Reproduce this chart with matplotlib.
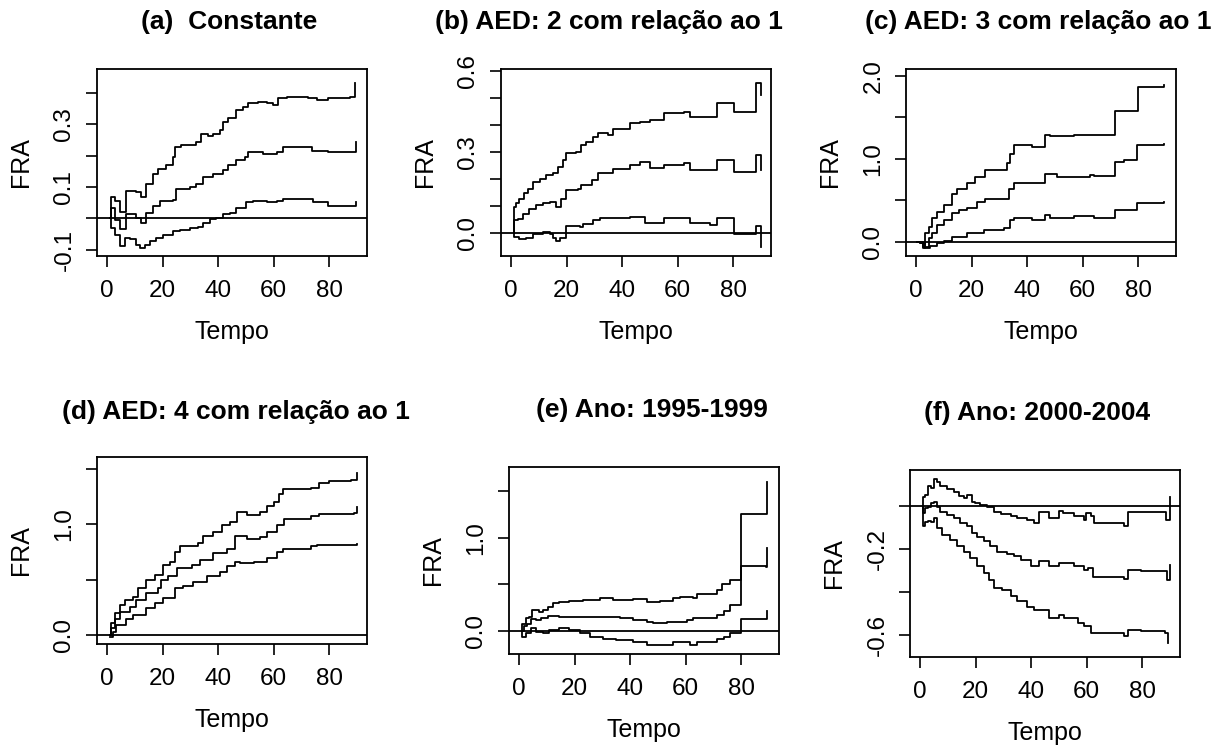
import matplotlib
matplotlib.use("Agg")
import matplotlib.pyplot as plt
from matplotlib.transforms import Bbox, TransformedBbox, offset_copy

plt.rcParams['font.family'] = ['Liberation Sans', 'DejaVu Sans']

# step curves: (tempo, FRA) knots
A_UP = [(1.0, 0.0), (1.3, 0.067), (2.8, 0.056), (4.6, 0.020), (7.0, 0.088), (10.6, 0.083), (12.4, 0.067),
        (14.2, 0.110), (16.6, 0.142), (18.4, 0.158), (21.4, 0.169), (23.8, 0.196), (24.4, 0.228), (26.8, 0.233),
        (32.2, 0.244), (34.0, 0.271), (36.5, 0.262), (38.2, 0.271), (40.6, 0.282), (41.8, 0.309), (43.6, 0.319),
        (46.6, 0.346), (49.0, 0.357), (50.8, 0.368), (54.4, 0.373), (57.5, 0.368), (59.9, 0.362), (61.7, 0.384),
        (64.7, 0.389), (72.5, 0.384), (75.5, 0.378), (79.7, 0.384), (87.5, 0.389), (89.3, 0.432)]
A_MID = [(1.0, 0.0), (1.6, 0.034), (2.8, -0.005), (4.6, -0.035), (7.0, 0.013), (10.6, 0.002), (12.4, -0.014),
         (14.2, 0.018), (16.6, 0.040), (19.0, 0.056), (23.8, 0.060), (25.0, 0.094), (29.8, 0.099), (32.2, 0.110),
         (34.6, 0.131), (38.2, 0.142), (41.8, 0.153), (43.6, 0.169), (46.6, 0.185), (49.6, 0.196), (50.8, 0.212),
         (56.2, 0.206), (61.1, 0.212), (63.5, 0.228), (71.9, 0.228), (73.7, 0.215), (79.7, 0.212), (88.7, 0.212),
         (89.7, 0.244)]
A_LOW = [(1.0, 0.0), (1.6, -0.030), (2.8, -0.052), (4.6, -0.089), (6.4, -0.062), (8.2, -0.067), (10.6, -0.084),
         (11.8, -0.095), (13.6, -0.084), (15.4, -0.073), (17.8, -0.062), (20.2, -0.052), (23.8, -0.041),
         (26.2, -0.036), (29.8, -0.030), (32.8, -0.028), (34.6, -0.014), (37.0, -0.003), (39.4, 0.002),
         (41.8, 0.013), (44.2, 0.018), (46.6, 0.034), (50.2, 0.051), (52.6, 0.056), (57.5, 0.051), (61.1, 0.056),
         (63.5, 0.061), (71.9, 0.061), (74.3, 0.051), (79.7, 0.040), (88.7, 0.040), (89.7, 0.051)]

B_UP = [(1.0, 0.0), (1.1, 0.096), (1.8, 0.109), (3.0, 0.127), (4.8, 0.146), (6.0, 0.164), (7.8, 0.189),
        (10.3, 0.201), (12.7, 0.214), (15.1, 0.220), (16.9, 0.244), (18.7, 0.269), (19.9, 0.294), (23.5, 0.298),
        (25.3, 0.325), (27.1, 0.337), (29.6, 0.356), (31.4, 0.370), (35.0, 0.362), (36.8, 0.386), (42.8, 0.405),
        (46.4, 0.411), (50.1, 0.417), (54.9, 0.442), (62.1, 0.448), (64.5, 0.430), (74.2, 0.479), (80.2, 0.448),
        (88.1, 0.553), (89.9, 0.510)]
B_MID = [(1.0, 0.0), (1.1, 0.047), (2.4, 0.053), (4.2, 0.072), (6.6, 0.090), (9.0, 0.102), (11.5, 0.109),
         (13.9, 0.115), (16.3, 0.096), (18.1, 0.127), (19.9, 0.160), (24.1, 0.164), (25.3, 0.177), (29.0, 0.195),
         (31.4, 0.220), (36.8, 0.238), (42.8, 0.251), (46.4, 0.263), (50.1, 0.240), (54.9, 0.251), (62.1, 0.257),
         (64.5, 0.232), (74.2, 0.269), (80.2, 0.226), (88.1, 0.288), (89.9, 0.232)]
B_LOW = [(1.0, 0.0), (1.1, -0.015), (3.0, -0.021), (5.4, -0.017), (7.8, -0.002), (11.5, 0.004), (13.9, -0.002),
         (15.1, -0.017), (16.3, -0.030), (17.5, -0.017), (19.9, 0.026), (24.7, 0.022), (25.9, 0.035),
         (29.6, 0.047), (32.0, 0.057), (36.8, 0.055), (42.8, 0.059), (48.3, 0.037), (54.9, 0.057), (64.5, 0.037),
         (71.8, 0.028), (74.2, 0.057), (80.2, -0.005), (88.1, 0.025), (89.9, -0.052)]

C_UP = [(0.5, 0.0), (1.4, -0.02), (2.6, -0.08), (3.2, 0.10), (4.5, 0.18), (5.7, 0.28), (7.5, 0.36), (9.9, 0.44),
        (12.9, 0.58), (14.7, 0.63), (18.3, 0.71), (21.3, 0.78), (24.9, 0.86), (32.7, 0.95), (33.9, 1.06),
        (35.1, 1.16), (41.8, 1.14), (46.6, 1.29), (48.4, 1.27), (56.8, 1.29), (71.8, 1.57), (80.0, 1.86),
        (89.3, 1.89)]
C_MID = [(0.5, 0.0), (2.6, -0.06), (4.5, 0.04), (5.7, 0.10), (7.5, 0.20), (9.9, 0.26), (12.9, 0.34), (15.3, 0.38),
         (18.3, 0.40), (21.9, 0.48), (24.9, 0.51), (33.3, 0.64), (35.1, 0.71), (46.6, 0.82), (50.8, 0.78),
         (62.8, 0.80), (64.0, 0.79), (71.8, 0.96), (74.8, 0.98), (79.7, 1.16), (89.3, 1.18)]
C_LOW = [(0.5, 0.0), (1.4, -0.02), (3.2, -0.08), (5.1, -0.05), (7.5, -0.02), (9.9, 0.01), (12.9, 0.05),
         (18.3, 0.10), (24.3, 0.14), (31.5, 0.16), (33.9, 0.26), (35.1, 0.28), (41.8, 0.26), (46.6, 0.32),
         (48.4, 0.29), (56.8, 0.31), (64.0, 0.29), (71.8, 0.38), (79.7, 0.46), (89.3, 0.48)]

D_UP = [(1.0, 0.0), (1.6, 0.105), (2.8, 0.196), (4.6, 0.27), (6.4, 0.316), (9.4, 0.346), (11.2, 0.42),
        (14.2, 0.50), (17.2, 0.54), (20.2, 0.63), (22.7, 0.66), (24.5, 0.75), (26.3, 0.80), (32.9, 0.83),
        (34.7, 0.89), (38.3, 0.93), (41.3, 0.99), (44.3, 1.02), (46.7, 1.11), (50.4, 1.08), (55.2, 1.11),
        (57.6, 1.16), (60.0, 1.20), (61.8, 1.27), (63.4, 1.32), (73.3, 1.33), (76.3, 1.37), (79.9, 1.39),
        (87.7, 1.40), (89.9, 1.46)]
D_MID = [(1.0, 0.0), (1.6, 0.06), (2.8, 0.14), (4.6, 0.21), (8.2, 0.25), (10.6, 0.32), (14.2, 0.38),
         (18.4, 0.42), (19.6, 0.50), (22.0, 0.53), (25.1, 0.60), (30.5, 0.63), (33.5, 0.68), (38.3, 0.74),
         (43.1, 0.78), (46.1, 0.89), (50.4, 0.87), (55.2, 0.88), (57.6, 0.93), (61.2, 0.99), (63.6, 1.05),
         (73.3, 1.07), (76.3, 1.09), (88.9, 1.10), (89.9, 1.15)]
D_LOW = [(1.0, -0.015), (2.2, 0.03), (3.4, 0.09), (7.0, 0.14), (9.4, 0.18), (14.2, 0.24), (17.2, 0.29),
         (20.2, 0.33), (24.5, 0.42), (27.5, 0.44), (31.1, 0.48), (35.9, 0.53), (40.7, 0.57), (43.1, 0.62),
         (46.1, 0.66), (48.0, 0.65), (52.8, 0.66), (57.6, 0.69), (61.2, 0.75), (63.4, 0.78), (73.3, 0.80),
         (75.7, 0.81), (88.9, 0.81), (89.9, 0.82)]

E_UP = [(1.0, 0.0), (1.2, 0.08), (2.4, 0.136), (3.6, 0.15), (4.8, 0.225), (7.3, 0.21), (8.5, 0.225), (10.3, 0.26),
        (12.1, 0.30), (14.5, 0.31), (18.1, 0.325), (23.0, 0.33), (29.0, 0.35), (33.8, 0.33), (41.1, 0.34),
        (45.9, 0.31), (50.8, 0.32), (55.6, 0.35), (58.0, 0.37), (62.8, 0.35), (64.0, 0.40), (71.3, 0.44),
        (73.1, 0.50), (76.1, 0.55), (80.0, 1.26), (89.4, 1.60)]
E_MID = [(1.0, 0.0), (1.8, 0.05), (3.0, 0.08), (4.2, 0.125), (6.0, 0.118), (7.9, 0.136), (10.3, 0.16),
         (14.5, 0.154), (19.3, 0.146), (29.0, 0.154), (36.3, 0.136), (41.1, 0.118), (45.9, 0.10), (48.3, 0.09),
         (53.2, 0.10), (60.4, 0.118), (62.8, 0.136), (71.3, 0.17), (73.7, 0.22), (76.1, 0.28), (80.0, 0.70),
         (88.8, 0.69), (89.4, 0.89)]
E_LOW = [(1.0, 0.0), (1.2, -0.06), (2.4, -0.025), (4.2, 0.03), (6.0, -0.005), (8.5, -0.025), (10.9, 0.01),
         (14.5, 0.03), (18.1, 0.01), (21.8, -0.025), (25.4, -0.06), (30.2, -0.08), (35.0, -0.096), (41.1, -0.114),
         (45.9, -0.15), (52.0, -0.15), (55.6, -0.114), (61.6, -0.15), (64.0, -0.114), (71.3, -0.09),
         (73.7, -0.06), (76.1, -0.025), (80.0, 0.125), (88.8, 0.13), (89.4, 0.22)]

F_UP = [(1.0, 0.0), (1.2, 0.046), (1.8, 0.054), (2.7, 0.093), (3.9, 0.085), (5.1, 0.127), (6.0, 0.116),
        (7.2, 0.093), (9.7, 0.080), (12.1, 0.065), (13.9, 0.049), (15.7, 0.038), (16.9, 0.054), (18.7, 0.022),
        (19.9, 0.015), (21.7, 0.007), (24.1, -0.004), (26.5, -0.024), (29.0, -0.035), (32.6, -0.047),
        (35.0, -0.055), (38.6, -0.066), (41.0, -0.079), (42.8, -0.024), (46.4, -0.055), (50.1, -0.020),
        (51.3, -0.032), (55.5, -0.047), (59.1, -0.066), (59.7, -0.032), (61.5, -0.047), (62.7, -0.079),
        (65.1, -0.076), (73.6, -0.091), (74.8, -0.024), (79.6, -0.028), (88.1, -0.028), (88.7, -0.063),
        (89.9, 0.046)]
F_MID = [(1.0, 0.0), (1.2, -0.032), (1.8, -0.009), (2.7, -0.001), (3.9, 0.015), (5.1, 0.022), (6.0, -0.001),
         (7.2, -0.024), (9.7, -0.040), (12.1, -0.055), (14.5, -0.076), (16.9, -0.094), (18.7, -0.125),
         (20.5, -0.141), (22.9, -0.164), (25.3, -0.187), (27.7, -0.211), (31.4, -0.222), (33.8, -0.234),
         (36.2, -0.250), (39.8, -0.281), (42.8, -0.257), (46.4, -0.281), (50.1, -0.265), (55.5, -0.281),
         (59.1, -0.297), (60.3, -0.289), (62.1, -0.329), (73.6, -0.339), (74.8, -0.297), (79.6, -0.304),
         (88.1, -0.304), (89.0, -0.344), (89.9, -0.273)]
F_LOW = [(1.0, 0.0), (1.2, -0.094), (1.8, -0.072), (2.7, -0.069), (3.9, -0.072), (5.1, -0.055), (6.0, -0.102),
         (7.8, -0.133), (10.9, -0.156), (13.3, -0.187), (15.7, -0.211), (18.1, -0.242), (20.5, -0.281),
         (22.9, -0.312), (24.7, -0.344), (26.5, -0.383), (29.6, -0.390), (32.6, -0.421), (35.0, -0.444),
         (38.6, -0.468), (41.0, -0.486), (46.4, -0.522), (50.1, -0.507), (51.9, -0.522), (56.7, -0.545),
         (59.1, -0.561), (61.5, -0.592), (73.6, -0.607), (74.8, -0.576), (79.6, -0.584), (88.1, -0.592),
         (89.3, -0.639)]

titles = ["(a)  Constante", "(b) AED: 2 com relação ao 1", "(c) AED: 3 com relação ao 1",
          "(d) AED: 4 com relação ao 1", "(e) Ano: 1995-1999", "(f) Ano: 2000-2004"]
curves = [(A_UP, A_MID, A_LOW), (B_UP, B_MID, B_LOW), (C_UP, C_MID, C_LOW),
          (D_UP, D_MID, D_LOW), (E_UP, E_MID, E_LOW), (F_UP, F_MID, F_LOW)]
yticks = [[-0.1, 0.0, 0.1, 0.2, 0.3, 0.4], [0.0, 0.1, 0.2, 0.3, 0.4, 0.5, 0.6], [0.0, 0.5, 1.0, 1.5, 2.0],
          [0.0, 0.5, 1.0, 1.5], [0.0, 0.5, 1.0, 1.5], [-0.6, -0.4, -0.2, 0.0]]
ylabels = [["-0.1", "", "0.1", "", "0.3", ""], ["0.0", "", "", "0.3", "", "", "0.6"], ["0.0", "", "1.0", "", "2.0"],
           ["0.0", "", "1.0", ""], ["0.0", "", "1.0", ""], ["-0.6", "", "-0.2", ""]]
xticks = [0, 20, 40, 60, 80]

# layout in pixels (box left, top, right, bottom) and title centres
W, H = 1225, 749
boxes = [(97, 69, 367, 256), (501, 69, 771, 256), (906, 69, 1176, 256),
         (97, 457, 367, 644), (509, 467, 779, 654), (910, 470, 1180, 657)]
ylims = [(-0.12, 0.477), (-0.085, 0.606), (-0.173, 2.08), (-0.081, 1.605), (-0.246, 1.761), (-0.704, 0.170)]
title_pos = [(229, 22), (609, 22), (1038, 22), (236, 412), (652, 410), (1037, 413)]

TICK_LEN, YPAD, XPAD = 8, 7.5, 9

fig = plt.figure(figsize=(W / 100, H / 100), dpi=100)

for i in range(6):
    x0, y0, x1, y1 = boxes[i]
    ax = fig.add_axes([x0 / W, 1 - y1 / H, (x1 - x0) / W, (y1 - y0) / H])
    for c in curves[i]:
        t, v = zip(*c)
        ax.step(t, v, where="post", color="black", lw=1.3)
    ax.axhline(0, color="black", lw=1.3)
    ax.set_xlim(-3.6, 93.6)
    ax.set_ylim(*ylims[i])
    ax.set_xticks(xticks)
    ax.set_xticklabels([str(x) for x in xticks])
    labs = list(ylabels[i])
    cut = None
    if i == 1:
        # top label of (b) is cut off by the figure edge in the original
        cut = (yticks[i][-1], labs[-1])
        labs[-1] = ""
    ax.set_yticks(yticks[i])
    ax.set_yticklabels(labs, rotation=90, va="center")
    ax.tick_params(axis="both", direction="out", length=TICK_LEN, width=1.2, labelsize=17.5)
    ax.tick_params(axis="x", pad=XPAD)
    ax.tick_params(axis="y", pad=YPAD)
    for s in ax.spines.values():
        s.set_linewidth(1.3)
    if cut is not None:
        tr = offset_copy(ax.get_yaxis_transform(), fig=fig, x=-(TICK_LEN + YPAD), units="points")
        txt = ax.text(0, cut[0], cut[1], transform=tr, rotation=90, ha="right", va="center",
                      fontsize=17.5, clip_on=True)
        txt.set_clip_box(TransformedBbox(Bbox.from_extents(0, 0, 1, 1 - 57 / H), fig.transFigure))
    fig.text((x0 + x1) / 2 / W, 1 - (y1 + 76) / H, "Tempo", ha="center", va="center", fontsize=18)
    fig.text((x0 - 76) / W, 1 - (y0 + y1) / 2 / H, "FRA", ha="center", va="center", rotation=90, fontsize=18)
    tx, ty = title_pos[i]
    fig.text(tx / W, 1 - ty / H, titles[i], ha="center", va="center", fontsize=19, fontweight="bold")

plt.savefig("out.png", dpi=100)
